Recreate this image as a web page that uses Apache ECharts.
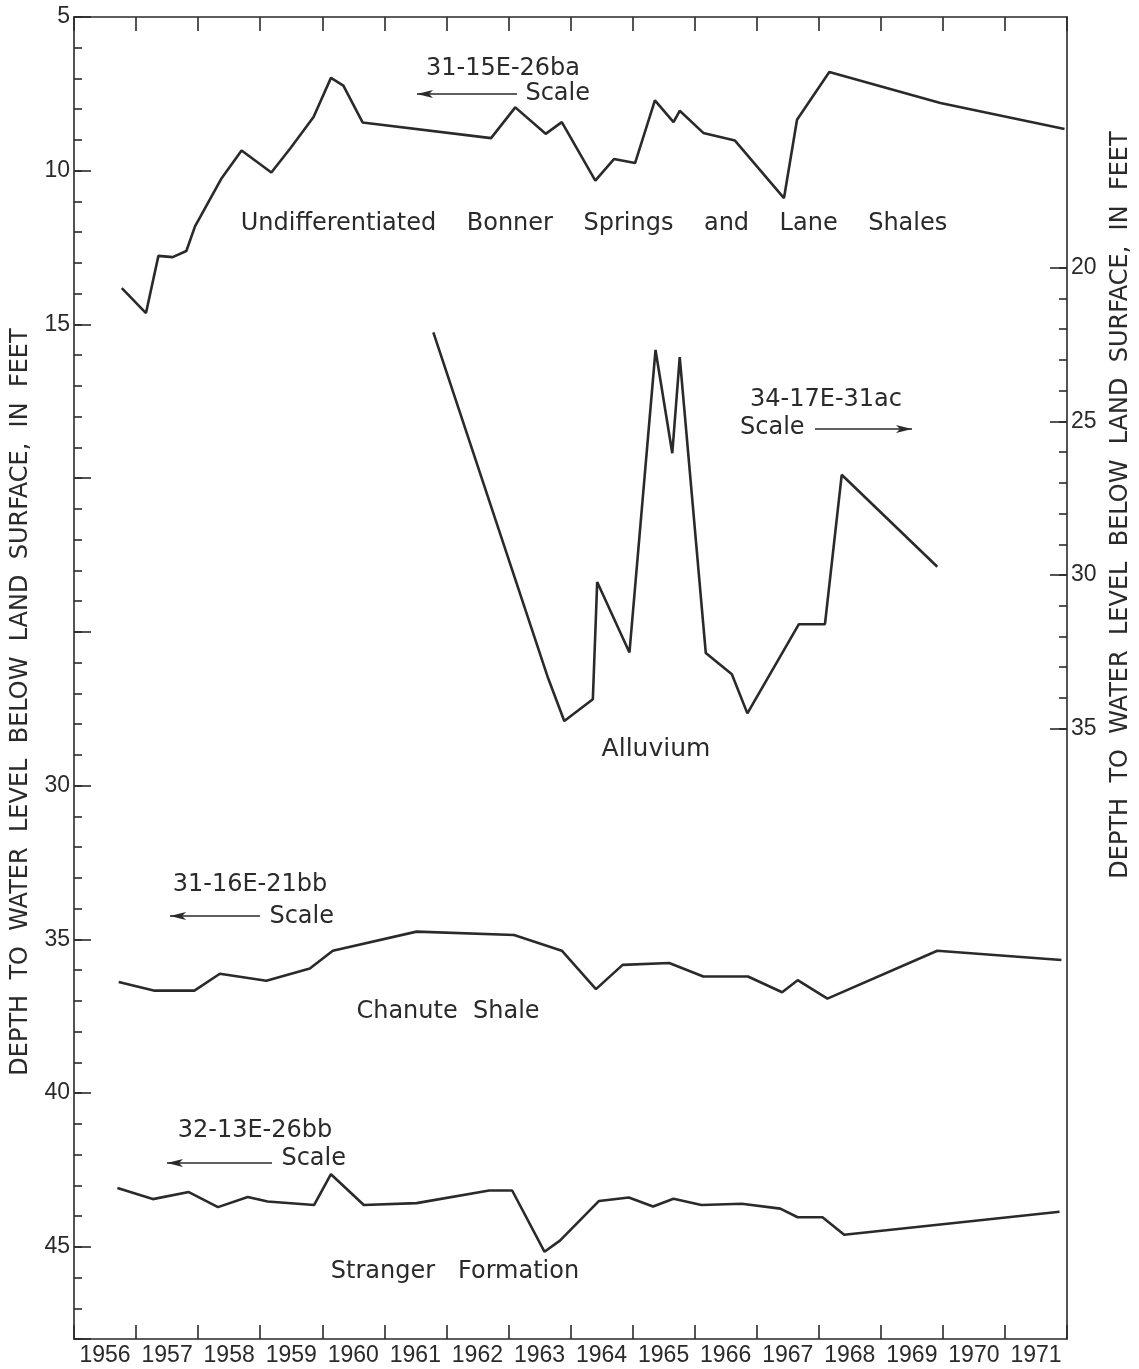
<!DOCTYPE html>
<html>
<head>
<meta charset="utf-8">
<script src="https://cdn.jsdelivr.net/npm/echarts@6/dist/echarts.min.js"></script>
<style>
html,body{margin:0;padding:0;background:#fff;}
#chart{width:1139px;height:1369px;}
</style>
</head>
<body>
<div id="chart"></div>
<script>
// ---------- data ----------
var yearLabels = ['1956','1957','1958','1959','1960','1961','1962','1963','1964','1965','1966','1967','1968','1969','1970','1971'];
var leftTickLabels = [5, 10, 15, 30, 35, 40, 45];
var rightTickLabels = [20, 25, 30, 35];

// 31-15E-26ba  Undifferentiated Bonner Springs and Lane Shales (left scale)
var bonnerYears = [1956.77,1957.16,1957.36,1957.59,1957.81,1957.95,1958.37,1958.70,1959.18,1959.49,1959.86,1960.14,1960.34,1960.65,1962.72,1963.11,1963.60,1963.86,1964.40,1964.70,1965.04,1965.36,1965.66,1965.76,1966.14,1966.65,1967.44,1967.65,1968.17,1969.96,1971.96];
var bonnerDepth = [13.82,14.63,12.77,12.81,12.61,11.81,10.27,9.34,10.06,9.26,8.25,6.98,7.23,8.43,8.94,7.94,8.80,8.42,10.32,9.62,9.75,7.71,8.42,8.05,8.77,9.02,10.89,8.34,6.79,7.80,8.64];

// 34-17E-31ac  Alluvium (right scale)
var alluviumYears = [1961.79,1963.64,1963.90,1964.36,1964.43,1964.95,1965.37,1965.64,1965.76,1966.18,1966.60,1966.85,1967.68,1968.10,1968.37,1969.91];
var alluviumDepth = [22.11,33.36,34.75,34.04,30.23,32.52,22.68,26.04,22.91,32.54,33.23,34.50,31.60,31.60,26.74,29.73];

// 31-16E-21bb  Chanute Shale (left scale)
var chanuteYears = [1956.72,1957.30,1957.94,1958.35,1959.10,1959.80,1960.17,1961.52,1963.09,1963.86,1964.41,1964.84,1965.59,1966.14,1966.86,1967.41,1967.66,1968.14,1969.91,1971.91];
var chanuteDepth = [36.39,36.67,36.67,36.12,36.35,35.95,35.37,34.75,34.86,35.37,36.62,35.83,35.77,36.21,36.21,36.72,36.33,36.93,35.37,35.67];

// 32-13E-26bb  Stranger Formation (left scale)
var strangerYears = [1956.70,1957.27,1957.85,1958.32,1958.80,1959.12,1959.87,1960.14,1960.67,1961.52,1962.69,1963.06,1963.58,1963.83,1964.46,1964.94,1965.33,1965.66,1966.11,1966.76,1967.38,1967.66,1968.06,1968.41,1971.88];
var strangerDepth = [43.09,43.45,43.22,43.71,43.38,43.53,43.64,42.64,43.64,43.58,43.17,43.17,45.16,44.80,43.51,43.40,43.69,43.44,43.64,43.60,43.76,44.04,44.04,44.61,43.86];

// ---------- build ----------
function zip(a, b) { var r = []; for (var i = 0; i < a.length; i++) r.push([a[i], b[i]]); return r; }
var INK = '#2a2a2a';
var NUMFONT = 'Liberation Sans';
var TXTFONT = 'DejaVu Sans';

var rightMinor = [];
for (var v = 20; v <= 35; v++) rightMinor.push(v);

var chart = echarts.init(document.getElementById('chart'), null, {renderer: 'canvas'});

function lineSeries(name, yIdx, data) {
  return {
    name: name, type: 'line', xAxisIndex: 0, yAxisIndex: yIdx,
    data: data, symbol: 'none', smooth: false, animation: false,
    lineStyle: {color: INK, width: 2.6}
  };
}

function txt(x, y, text, size, align, rot) {
  return {
    type: 'text', x: x, y: y, rotation: rot || 0, silent: true,
    style: {text: text, fill: INK, font: size + 'px "' + TXTFONT + '"',
            textAlign: align || 'center', textVerticalAlign: 'middle',
            align: align || 'center', verticalAlign: 'middle'}
  };
}
function arrow(x1, x2, y, dir) {
  var tip = dir < 0 ? x1 : x2;
  var d = dir < 0 ? 16 : -16;
  return [
    {type: 'line', silent: true, shape: {x1: x1, y1: y, x2: x2, y2: y}, style: {stroke: INK, lineWidth: 1.5}},
    {type: 'polygon', silent: true, shape: {points: [[tip, y], [tip + d, y - 4], [tip + d * 0.75, y], [tip + d, y + 4]]}, style: {fill: INK}}
  ];
}

var TITLE = 'DEPTH  TO  WATER  LEVEL  BELOW  LAND  SURFACE,  IN  FEET';
var graphics = [
  txt(503, 69, '31-15E-26ba', 24),
  txt(590, 94, 'Scale', 24, 'right'),
  txt(594, 224, 'Undifferentiated    Bonner    Springs    and    Lane    Shales', 24),
  txt(826, 400, '34-17E-31ac', 24),
  txt(740, 428, 'Scale', 24, 'left'),
  txt(656, 749, 'Alluvium', 25),
  txt(250, 885, '31-16E-21bb', 24),
  txt(334, 917, 'Scale', 24, 'right'),
  txt(448, 1012, 'Chanute  Shale', 24),
  txt(255, 1131, '32-13E-26bb', 24),
  txt(346, 1159, 'Scale', 24, 'right'),
  txt(455, 1272, 'Stranger   Formation', 24),
  txt(21, 702, TITLE, 24, 'center', Math.PI / 2),
  txt(1121, 505, TITLE, 24, 'center', Math.PI / 2)
].concat(arrow(417, 517, 94, -1), arrow(815, 912, 429, 1), arrow(170, 260, 916, -1), arrow(167, 272, 1163, -1));

var axisLine = {show: true, lineStyle: {color: INK, width: 1.6}};

var option = {
  backgroundColor: '#ffffff',
  animation: false,
  grid: {left: 74, right: 72, top: 17, bottom: 30, containLabel: false},
  xAxis: [
    {
      type: 'value', position: 'top', min: 1956, max: 1972, interval: 1,
      axisLine: axisLine,
      axisTick: {show: true, inside: true, length: 14, lineStyle: {color: INK, width: 1.6}},
      axisLabel: {show: false}, splitLine: {show: false}
    },
    {
      type: 'category', position: 'bottom', data: yearLabels, boundaryGap: true,
      axisLine: axisLine,
      axisTick: {show: true, inside: true, length: 14, interval: 0, alignWithLabel: false, lineStyle: {color: INK, width: 1.6}},
      axisLabel: {show: true, interval: 0, color: INK, fontFamily: NUMFONT, fontSize: 23, margin: 5},
      splitLine: {show: false}
    }
  ],
  yAxis: [
    {
      type: 'value', position: 'left', inverse: true, min: 5, max: 48, interval: 5,
      axisLine: axisLine,
      axisTick: {show: true, inside: true, length: 17, lineStyle: {color: INK, width: 1.6}},
      axisLabel: {show: true, color: INK, fontFamily: NUMFONT, fontSize: 23, margin: 4,
        formatter: function (val) { return leftTickLabels.indexOf(val) >= 0 ? String(val) : ''; }},
      splitLine: {show: false}
    },
    {
      type: 'value', position: 'left', inverse: true, min: 5, max: 48, interval: 1,
      axisLine: {show: false},
      axisTick: {show: true, inside: true, length: 8, lineStyle: {color: INK, width: 1.6}},
      axisLabel: {show: false}, splitLine: {show: false}
    },
    {
      type: 'value', position: 'right', inverse: true, min: 11.85, max: 54.85,
      axisLine: axisLine,
      axisTick: {show: true, inside: true, length: 17, customValues: rightTickLabels, lineStyle: {color: INK, width: 1.6}},
      axisLabel: {show: true, color: INK, fontFamily: NUMFONT, fontSize: 23, margin: 4, customValues: rightTickLabels},
      splitLine: {show: false}
    },
    {
      type: 'value', position: 'right', inverse: true, min: 11.85, max: 54.85,
      axisLine: {show: false},
      axisTick: {show: true, inside: true, length: 8, customValues: rightMinor, lineStyle: {color: INK, width: 1.6}},
      axisLabel: {show: false}, splitLine: {show: false}
    }
  ],
  graphic: graphics,
  series: [
    lineSeries('31-15E-26ba', 0, zip(bonnerYears, bonnerDepth)),
    lineSeries('34-17E-31ac', 2, zip(alluviumYears, alluviumDepth)),
    lineSeries('31-16E-21bb', 0, zip(chanuteYears, chanuteDepth)),
    lineSeries('32-13E-26bb', 0, zip(strangerYears, strangerDepth))
  ]
};
chart.setOption(option);
</script>
</body>
</html>
